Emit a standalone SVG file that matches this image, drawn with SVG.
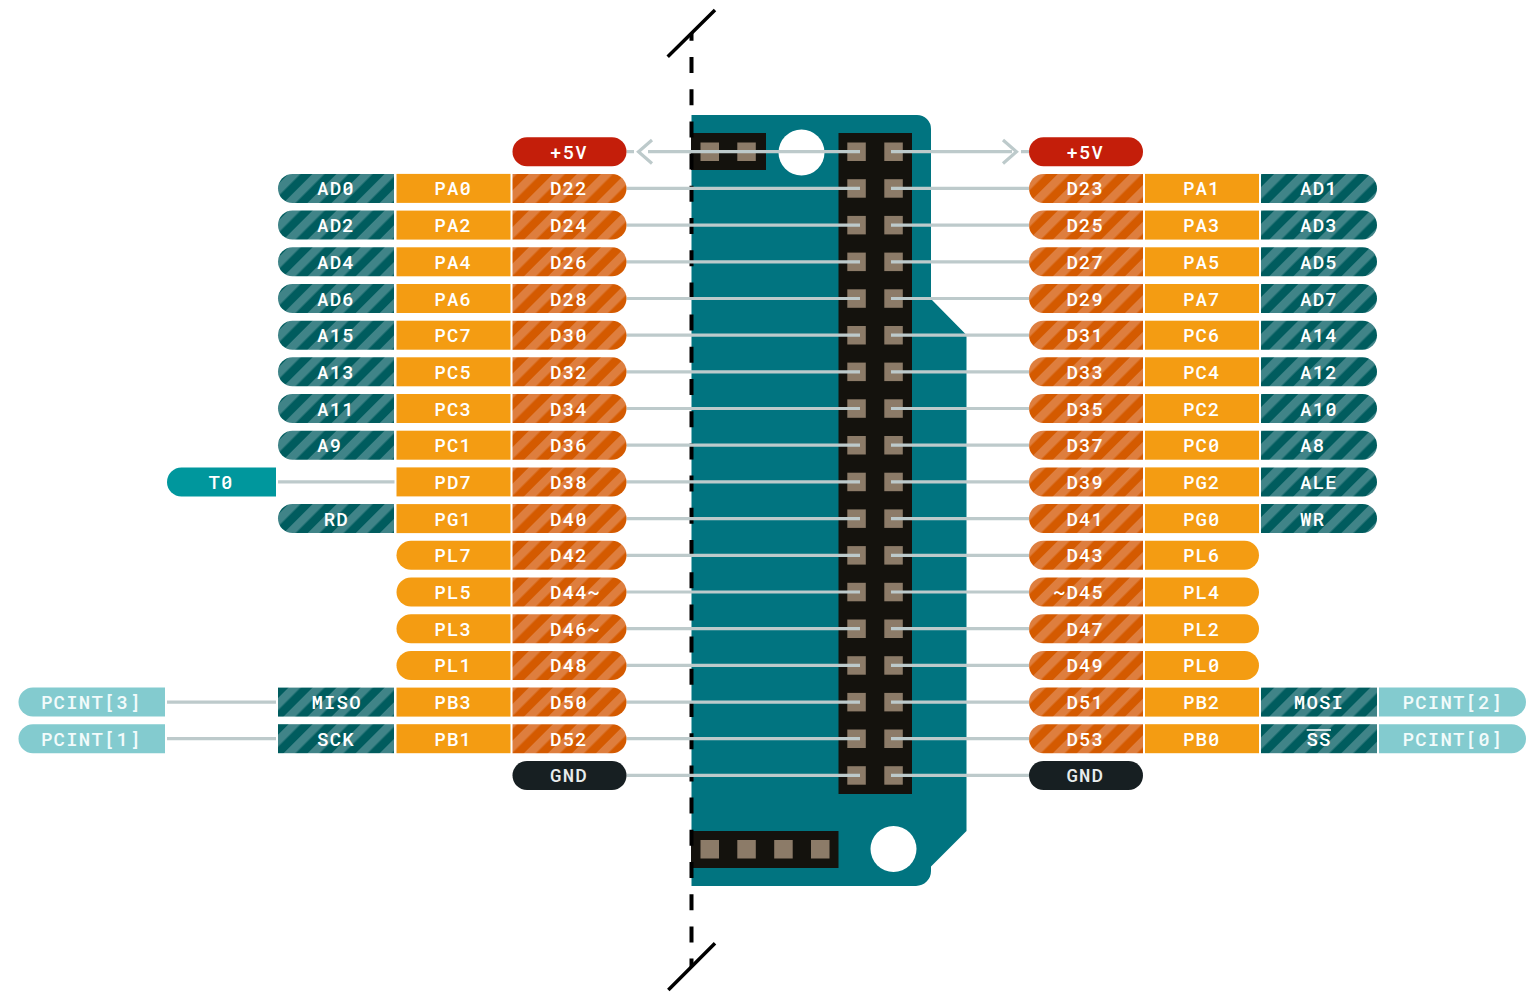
<svg xmlns="http://www.w3.org/2000/svg" width="1526" height="992" viewBox="0 0 1526 992">
<style>
text{font-family:"Roboto Mono","DejaVu Sans Mono","Liberation Mono",monospace;font-size:19px;font-weight:500;letter-spacing:1.2px;fill:#fff;text-anchor:middle}
.wire{stroke:#bdcacb;stroke-width:3.2;fill:none}
.red{fill:#c41e0a}.org{fill:url(#hO)}.yel{fill:#f49c12}.tea{fill:url(#hT)}.cya{fill:#00979d}.lt{fill:#83cbcf}.blk{fill:#171f22}
.lttxt{fill:#f2fbfb}.gnd{fill:#e8ecec}
.pad{fill:#8c7b68}.hdr{fill:#14120d}
</style>
<defs>
<pattern id="hO" width="17" height="17" patternUnits="userSpaceOnUse" patternTransform="rotate(45)"><rect width="17" height="17" fill="#d45a00"/><rect width="8.500" height="17" fill="#de7e3e"/></pattern>
<pattern id="hT" width="17" height="17" patternUnits="userSpaceOnUse" patternTransform="rotate(45)"><rect width="17" height="17" fill="#005c5e"/><rect width="8.500" height="17" fill="#408488"/></pattern>
<path id="aL" d="M394 0H292.500a14.500 14.500 0 0 0 0 29H394Z"/>
<rect id="aR" x="278" width="116" height="29"/>
<rect id="pR" x="396.500" width="114" height="29"/>
<path id="pL" d="M510.500 0H411a14.500 14.500 0 0 0 0 29H510.500Z"/>
<path id="dR" d="M512.500 0H612a14.500 14.500 0 0 1 0 29H512.500Z"/>
<rect id="dB" x="512.500" width="114" height="29" rx="14.500"/>
<path id="tL" d="M276 0H181.500a14.500 14.500 0 0 0 0 29H276Z"/>
<path id="iL" d="M165 0H33a14.500 14.500 0 0 0 0 29H165Z"/>
<path id="DL" d="M1143 0H1043.500a14.500 14.500 0 0 0 0 29H1143Z"/>
<rect id="DB" x="1029" width="114" height="29" rx="14.500"/>
<rect id="PR" x="1145" width="114" height="29"/>
<path id="PE" d="M1145 0H1244.500a14.500 14.500 0 0 1 0 29H1145Z"/>
<path id="AE" d="M1261 0H1362.500a14.500 14.500 0 0 1 0 29H1261Z"/>
<rect id="AR" x="1261" width="116" height="29"/>
<path id="IE" d="M1379 0H1511.500a14.500 14.500 0 0 1 0 29H1379Z"/>
</defs>

<g id="board">
<path d="M691.500 115H917a14 14 0 0 1 14 14V299L966.500 335V831L931 866.500V871a15 15 0 0 1-15 15H691.500Z" fill="#017480"/>
<circle cx="801.500" cy="152.500" r="23" fill="#fff"/>
<circle cx="893.500" cy="849" r="23" fill="#fff"/>
</g>
<g id="header-top"><rect class="hdr" x="691" y="133" width="75" height="37"/><rect class="pad" x="700.500" y="142.500" width="18.500" height="18.500"/><rect class="pad" x="737.300" y="142.500" width="18.500" height="18.500"/></g>
<g id="header-bottom"><rect class="hdr" x="691" y="831" width="147.500" height="37"/><rect class="pad" x="700.500" y="840" width="18.500" height="18.500"/><rect class="pad" x="737.300" y="840" width="18.500" height="18.500"/><rect class="pad" x="774.200" y="840" width="18.500" height="18.500"/><rect class="pad" x="811" y="840" width="18.500" height="18.500"/></g>
<g id="header-main"><rect class="hdr" x="838.500" y="133" width="73.500" height="661"/>
<g class="pad">
<rect x="847.300" y="142.500" width="18.500" height="18.500"/><rect x="884.300" y="142.500" width="18.500" height="18.500"/>
<rect x="847.300" y="179.200" width="18.500" height="18.500"/><rect x="884.300" y="179.200" width="18.500" height="18.500"/>
<rect x="847.300" y="215.900" width="18.500" height="18.500"/><rect x="884.300" y="215.900" width="18.500" height="18.500"/>
<rect x="847.300" y="252.600" width="18.500" height="18.500"/><rect x="884.300" y="252.600" width="18.500" height="18.500"/>
<rect x="847.300" y="289.300" width="18.500" height="18.500"/><rect x="884.300" y="289.300" width="18.500" height="18.500"/>
<rect x="847.300" y="326" width="18.500" height="18.500"/><rect x="884.300" y="326" width="18.500" height="18.500"/>
<rect x="847.300" y="362.600" width="18.500" height="18.500"/><rect x="884.300" y="362.600" width="18.500" height="18.500"/>
<rect x="847.300" y="399.300" width="18.500" height="18.500"/><rect x="884.300" y="399.300" width="18.500" height="18.500"/>
<rect x="847.300" y="436" width="18.500" height="18.500"/><rect x="884.300" y="436" width="18.500" height="18.500"/>
<rect x="847.300" y="472.700" width="18.500" height="18.500"/><rect x="884.300" y="472.700" width="18.500" height="18.500"/>
<rect x="847.300" y="509.400" width="18.500" height="18.500"/><rect x="884.300" y="509.400" width="18.500" height="18.500"/>
<rect x="847.300" y="546.100" width="18.500" height="18.500"/><rect x="884.300" y="546.100" width="18.500" height="18.500"/>
<rect x="847.300" y="582.800" width="18.500" height="18.500"/><rect x="884.300" y="582.800" width="18.500" height="18.500"/>
<rect x="847.300" y="619.500" width="18.500" height="18.500"/><rect x="884.300" y="619.500" width="18.500" height="18.500"/>
<rect x="847.300" y="656.200" width="18.500" height="18.500"/><rect x="884.300" y="656.200" width="18.500" height="18.500"/>
<rect x="847.300" y="692.900" width="18.500" height="18.500"/><rect x="884.300" y="692.900" width="18.500" height="18.500"/>
<rect x="847.300" y="729.500" width="18.500" height="18.500"/><rect x="884.300" y="729.500" width="18.500" height="18.500"/>
<rect x="847.300" y="766.200" width="18.500" height="18.500"/><rect x="884.300" y="766.200" width="18.500" height="18.500"/>
</g></g>
<g id="cut-line" stroke="#000" fill="none">
<path d="M691.500 33V967" stroke-width="4" stroke-dasharray="16 16.200" stroke-dashoffset="8.200"/>
<path d="M667.700 56.700L715 10M668.300 990L715 943.300" stroke-width="3.500"/>
</g>

<g id="connectors" class="wire">
<path d="M626.500 151.700H634M648 151.700H860M891 151.700H1012M1021 151.700H1029"/>
<path d="M652 140L638.500 151.700L652 163.500M1003 140L1016.500 151.700L1003 163.500"/>
<path d="M626.500 188.400H860M891 188.400H1029M626.500 225.100H860M891 225.100H1029M626.500 261.800H860M891 261.800H1029M626.500 298.500H860M891 298.500H1029M626.500 335.200H860M891 335.200H1029M626.500 371.800H860M891 371.800H1029M626.500 408.500H860M891 408.500H1029M626.500 445.200H860M891 445.200H1029M626.500 481.900H860M891 481.900H1029M626.500 518.600H860M891 518.600H1029M626.500 555.300H860M891 555.300H1029M626.500 592H860M891 592H1029M626.500 628.700H860M891 628.700H1029M626.500 665.400H860M891 665.400H1029M626.500 702.100H860M891 702.100H1029M626.500 738.700H860M891 738.700H1029M626.500 775.400H860M891 775.400H1029"/>
<path d="M278 481.900H394.500M167 702.100H276M167 738.700H276"/>
</g>

<g transform="translate(0,137.200)">
<g id="n-5v-l"><use href="#dB" class="red"/><text x="569" y="21.500">+5V</text></g>
<g id="n-5v-r"><use href="#DB" class="red"/><text x="1085.300" y="21.500">+5V</text></g>
</g>
<g transform="translate(0,173.900)">
<g id="n-ad0"><use href="#aL" class="tea"/><text x="336" y="21.500">AD0</text></g>
<g id="n-pa0"><use href="#pR" class="yel"/><text x="453.200" y="21.500">PA0</text></g>
<g id="n-d22"><use href="#dR" class="org"/><text x="569" y="21.500">D22</text></g>
<g id="n-d23"><use href="#DL" class="org"/><text x="1085.300" y="21.500">D23</text></g>
<g id="n-pa1"><use href="#PR" class="yel"/><text x="1201.800" y="21.500">PA1</text></g>
<g id="n-ad1"><use href="#AE" class="tea"/><text x="1319" y="21.500">AD1</text></g>
</g>
<g transform="translate(0,210.600)">
<g id="n-ad2"><use href="#aL" class="tea"/><text x="336" y="21.500">AD2</text></g>
<g id="n-pa2"><use href="#pR" class="yel"/><text x="453.200" y="21.500">PA2</text></g>
<g id="n-d24"><use href="#dR" class="org"/><text x="569" y="21.500">D24</text></g>
<g id="n-d25"><use href="#DL" class="org"/><text x="1085.300" y="21.500">D25</text></g>
<g id="n-pa3"><use href="#PR" class="yel"/><text x="1201.800" y="21.500">PA3</text></g>
<g id="n-ad3"><use href="#AE" class="tea"/><text x="1319" y="21.500">AD3</text></g>
</g>
<g transform="translate(0,247.300)">
<g id="n-ad4"><use href="#aL" class="tea"/><text x="336" y="21.500">AD4</text></g>
<g id="n-pa4"><use href="#pR" class="yel"/><text x="453.200" y="21.500">PA4</text></g>
<g id="n-d26"><use href="#dR" class="org"/><text x="569" y="21.500">D26</text></g>
<g id="n-d27"><use href="#DL" class="org"/><text x="1085.300" y="21.500">D27</text></g>
<g id="n-pa5"><use href="#PR" class="yel"/><text x="1201.800" y="21.500">PA5</text></g>
<g id="n-ad5"><use href="#AE" class="tea"/><text x="1319" y="21.500">AD5</text></g>
</g>
<g transform="translate(0,284)">
<g id="n-ad6"><use href="#aL" class="tea"/><text x="336" y="21.500">AD6</text></g>
<g id="n-pa6"><use href="#pR" class="yel"/><text x="453.200" y="21.500">PA6</text></g>
<g id="n-d28"><use href="#dR" class="org"/><text x="569" y="21.500">D28</text></g>
<g id="n-d29"><use href="#DL" class="org"/><text x="1085.300" y="21.500">D29</text></g>
<g id="n-pa7"><use href="#PR" class="yel"/><text x="1201.800" y="21.500">PA7</text></g>
<g id="n-ad7"><use href="#AE" class="tea"/><text x="1319" y="21.500">AD7</text></g>
</g>
<g transform="translate(0,320.700)">
<g id="n-a15"><use href="#aL" class="tea"/><text x="336" y="21.500">A15</text></g>
<g id="n-pc7"><use href="#pR" class="yel"/><text x="453.200" y="21.500">PC7</text></g>
<g id="n-d30"><use href="#dR" class="org"/><text x="569" y="21.500">D30</text></g>
<g id="n-d31"><use href="#DL" class="org"/><text x="1085.300" y="21.500">D31</text></g>
<g id="n-pc6"><use href="#PR" class="yel"/><text x="1201.800" y="21.500">PC6</text></g>
<g id="n-a14"><use href="#AE" class="tea"/><text x="1319" y="21.500">A14</text></g>
</g>
<g transform="translate(0,357.300)">
<g id="n-a13"><use href="#aL" class="tea"/><text x="336" y="21.500">A13</text></g>
<g id="n-pc5"><use href="#pR" class="yel"/><text x="453.200" y="21.500">PC5</text></g>
<g id="n-d32"><use href="#dR" class="org"/><text x="569" y="21.500">D32</text></g>
<g id="n-d33"><use href="#DL" class="org"/><text x="1085.300" y="21.500">D33</text></g>
<g id="n-pc4"><use href="#PR" class="yel"/><text x="1201.800" y="21.500">PC4</text></g>
<g id="n-a12"><use href="#AE" class="tea"/><text x="1319" y="21.500">A12</text></g>
</g>
<g transform="translate(0,394)">
<g id="n-a11"><use href="#aL" class="tea"/><text x="336" y="21.500">A11</text></g>
<g id="n-pc3"><use href="#pR" class="yel"/><text x="453.200" y="21.500">PC3</text></g>
<g id="n-d34"><use href="#dR" class="org"/><text x="569" y="21.500">D34</text></g>
<g id="n-d35"><use href="#DL" class="org"/><text x="1085.300" y="21.500">D35</text></g>
<g id="n-pc2"><use href="#PR" class="yel"/><text x="1201.800" y="21.500">PC2</text></g>
<g id="n-a10"><use href="#AE" class="tea"/><text x="1319" y="21.500">A10</text></g>
</g>
<g transform="translate(0,430.700)">
<g id="n-a9"><use href="#aL" class="tea"/><text x="329.700" y="21.500">A9</text></g>
<g id="n-pc1"><use href="#pR" class="yel"/><text x="453.200" y="21.500">PC1</text></g>
<g id="n-d36"><use href="#dR" class="org"/><text x="569" y="21.500">D36</text></g>
<g id="n-d37"><use href="#DL" class="org"/><text x="1085.300" y="21.500">D37</text></g>
<g id="n-pc0"><use href="#PR" class="yel"/><text x="1201.800" y="21.500">PC0</text></g>
<g id="n-a8"><use href="#AE" class="tea"/><text x="1312.700" y="21.500">A8</text></g>
</g>
<g transform="translate(0,467.400)">
<g id="n-t0"><use href="#tL" class="cya"/><text x="221" y="21.500">T0</text></g>
<g id="n-pd7"><use href="#pR" class="yel"/><text x="453.200" y="21.500">PD7</text></g>
<g id="n-d38"><use href="#dR" class="org"/><text x="569" y="21.500">D38</text></g>
<g id="n-d39"><use href="#DL" class="org"/><text x="1085.300" y="21.500">D39</text></g>
<g id="n-pg2"><use href="#PR" class="yel"/><text x="1201.800" y="21.500">PG2</text></g>
<g id="n-ale"><use href="#AE" class="tea"/><text x="1319" y="21.500">ALE</text></g>
</g>
<g transform="translate(0,504.100)">
<g id="n-rd"><use href="#aL" class="tea"/><text x="336.300" y="21.500">RD</text></g>
<g id="n-pg1"><use href="#pR" class="yel"/><text x="453.200" y="21.500">PG1</text></g>
<g id="n-d40"><use href="#dR" class="org"/><text x="569" y="21.500">D40</text></g>
<g id="n-d41"><use href="#DL" class="org"/><text x="1085.300" y="21.500">D41</text></g>
<g id="n-pg0"><use href="#PR" class="yel"/><text x="1201.800" y="21.500">PG0</text></g>
<g id="n-wr"><use href="#AE" class="tea"/><text x="1312.700" y="21.500">WR</text></g>
</g>
<g transform="translate(0,540.800)">
<g id="n-pl7"><use href="#pL" class="yel"/><text x="453.200" y="21.500">PL7</text></g>
<g id="n-d42"><use href="#dR" class="org"/><text x="569" y="21.500">D42</text></g>
<g id="n-d43"><use href="#DL" class="org"/><text x="1085.300" y="21.500">D43</text></g>
<g id="n-pl6"><use href="#PE" class="yel"/><text x="1201.800" y="21.500">PL6</text></g>
</g>
<g transform="translate(0,577.500)">
<g id="n-pl5"><use href="#pL" class="yel"/><text x="453.200" y="21.500">PL5</text></g>
<g id="n-d44"><use href="#dR" class="org"/><text x="575.300" y="21.500">D44~</text></g>
<g id="n-d45"><use href="#DL" class="org"/><text x="1079" y="21.500">~D45</text></g>
<g id="n-pl4"><use href="#PE" class="yel"/><text x="1201.800" y="21.500">PL4</text></g>
</g>
<g transform="translate(0,614.200)">
<g id="n-pl3"><use href="#pL" class="yel"/><text x="453.200" y="21.500">PL3</text></g>
<g id="n-d46"><use href="#dR" class="org"/><text x="575.300" y="21.500">D46~</text></g>
<g id="n-d47"><use href="#DL" class="org"/><text x="1085.300" y="21.500">D47</text></g>
<g id="n-pl2"><use href="#PE" class="yel"/><text x="1201.800" y="21.500">PL2</text></g>
</g>
<g transform="translate(0,650.900)">
<g id="n-pl1"><use href="#pL" class="yel"/><text x="453.200" y="21.500">PL1</text></g>
<g id="n-d48"><use href="#dR" class="org"/><text x="569" y="21.500">D48</text></g>
<g id="n-d49"><use href="#DL" class="org"/><text x="1085.300" y="21.500">D49</text></g>
<g id="n-pl0"><use href="#PE" class="yel"/><text x="1201.800" y="21.500">PL0</text></g>
</g>
<g transform="translate(0,687.600)">
<g id="n-pcint3"><use href="#iL" class="lt"/><text class="lttxt" x="91.400" y="21.500">PCINT[3]</text></g>
<g id="n-miso"><use href="#aR" class="tea"/><text x="336.600" y="21.500">MISO</text></g>
<g id="n-pb3"><use href="#pR" class="yel"/><text x="453.200" y="21.500">PB3</text></g>
<g id="n-d50"><use href="#dR" class="org"/><text x="569" y="21.500">D50</text></g>
<g id="n-d51"><use href="#DL" class="org"/><text x="1085.300" y="21.500">D51</text></g>
<g id="n-pb2"><use href="#PR" class="yel"/><text x="1201.800" y="21.500">PB2</text></g>
<g id="n-mosi"><use href="#AR" class="tea"/><text x="1319" y="21.500">MOSI</text></g>
<g id="n-pcint2"><use href="#IE" class="lt"/><text class="lttxt" x="1453" y="21.500">PCINT[2]</text></g>
</g>
<g transform="translate(0,724.200)">
<g id="n-pcint1"><use href="#iL" class="lt"/><text class="lttxt" x="91.400" y="21.500">PCINT[1]</text></g>
<g id="n-sck"><use href="#aR" class="tea"/><text x="336" y="21.500">SCK</text></g>
<g id="n-pb1"><use href="#pR" class="yel"/><text x="453.200" y="21.500">PB1</text></g>
<g id="n-d52"><use href="#dR" class="org"/><text x="569" y="21.500">D52</text></g>
<g id="n-d53"><use href="#DL" class="org"/><text x="1085.300" y="21.500">D53</text></g>
<g id="n-pb0"><use href="#PR" class="yel"/><text x="1201.800" y="21.500">PB0</text></g>
<g id="n-ss"><use href="#AR" class="tea"/><text x="1319" y="21.500">SS</text><path d="M1306.700 5.800H1331" stroke="#fff" stroke-width="1.500"/></g>
<g id="n-pcint0"><use href="#IE" class="lt"/><text class="lttxt" x="1453" y="21.500">PCINT[0]</text></g>
</g>
<g transform="translate(0,760.900)">
<g id="n-gnd-l"><use href="#dB" class="blk"/><text class="gnd" x="569" y="21.500">GND</text></g>
<g id="n-gnd-r"><use href="#DB" class="blk"/><text class="gnd" x="1085.300" y="21.500">GND</text></g>
</g>
</svg>
